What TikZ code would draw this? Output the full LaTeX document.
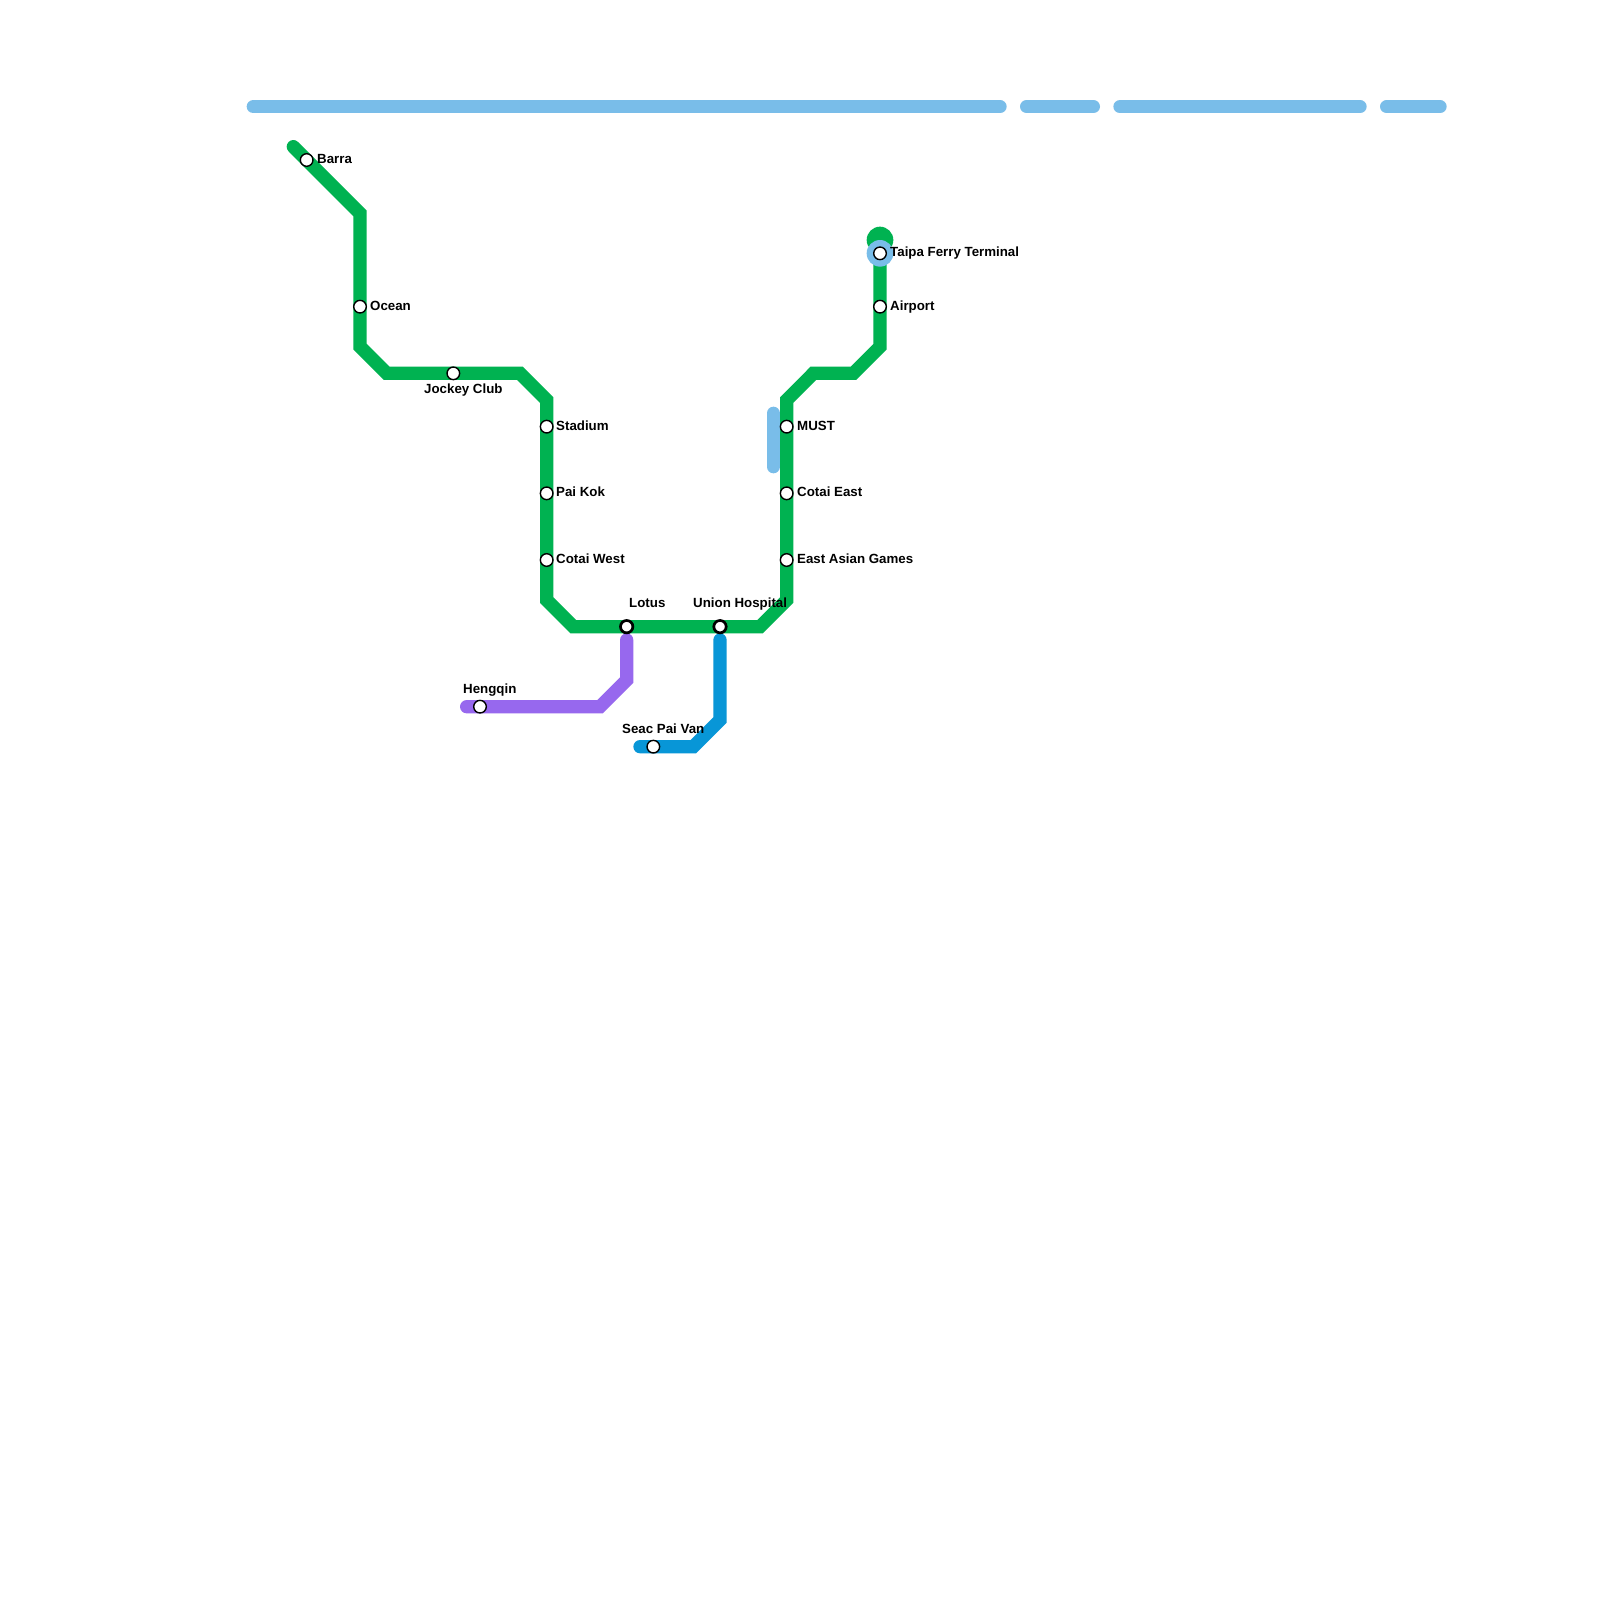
\documentclass[tikz,border=0pt]{standalone}
\usepackage{fontspec}
\setmainfont{Liberation Sans}
\tikzset{
  line/.style={line width=13.33pt,line cap=round,line join=miter},
  water/.style={line,draw=wblue},
  stn/.style={circle,draw=black,fill=white,line width=1.4pt,minimum size=12.6pt,inner sep=0pt},
  xstn/.style={circle,draw=black,fill=white,line width=2.7pt,minimum size=12.4pt,inner sep=0pt},
  lbl/.style={anchor=base west,inner sep=0pt,font=\bfseries\fontsize{13.3}{15}\selectfont,text=black}
}
\definecolor{wblue}{HTML}{79BDE9}
\definecolor{lgreen}{HTML}{00B251}
\definecolor{lpurple}{HTML}{9768EE}
\definecolor{lblue}{HTML}{0896D7}
\begin{document}
\begin{tikzpicture}[x=1pt,y=-1pt]
\useasboundingbox (0,0) rectangle (1600,1600);
\fill[white] (0,0) rectangle (1600,1600);
% water
\coordinate (w1a) at (253.33,106.67); \coordinate (w1b) at (1000,106.67);
\coordinate (w2a) at (1026.67,106.67); \coordinate (w2b) at (1093.33,106.67);
\coordinate (w3a) at (1120,106.67); \coordinate (w3b) at (1360,106.67);
\coordinate (w4a) at (1386.67,106.67); \coordinate (w4b) at (1440,106.67);
\coordinate (w5a) at (773.33,413.33); \coordinate (w5b) at (773.33,466.67);
\draw[water] (w1a) -- (w1b);
\draw[water] (w2a) -- (w2b);
\draw[water] (w3a) -- (w3b);
\draw[water] (w4a) -- (w4b);
\draw[water] (w5a) -- (w5b);
% green line
\coordinate (gs) at (293.33,146.67);
\coordinate (g1) at (360,213.33); \coordinate (g2) at (360,346.67);
\coordinate (g3) at (386.67,373.33); \coordinate (g4) at (520,373.33);
\coordinate (g5) at (546.67,400); \coordinate (g6) at (546.67,600);
\coordinate (g7) at (573.33,626.67); \coordinate (g8) at (760,626.67);
\coordinate (g9) at (786.67,600); \coordinate (g10) at (786.67,400);
\coordinate (g11) at (813.33,373.33); \coordinate (g12) at (853.33,373.33);
\coordinate (g13) at (880,346.67); \coordinate (ge) at (880,240);
\fill[lgreen] (ge) circle (13.33pt);
\draw[line,draw=lgreen] (gs) -- (g1) -- (g2) -- (g3) -- (g4) -- (g5) -- (g6) -- (g7) -- (g8) -- (g9) -- (g10) -- (g11) -- (g12) -- (g13) -- (ge);
% purple line
\coordinate (p1) at (626.67,640); \coordinate (p2) at (626.67,680);
\coordinate (p3) at (600,706.67); \coordinate (p4) at (466.67,706.67);
\draw[line,draw=lpurple] (p1) -- (p2) -- (p3) -- (p4);
% blue line
\coordinate (b1) at (720,640); \coordinate (b2) at (720,720);
\coordinate (b3) at (693.33,746.67); \coordinate (b4) at (640,746.67);
\draw[line,draw=lblue] (b1) -- (b2) -- (b3) -- (b4);
% terminal halo
\fill[wblue] (880,253.33) circle (13.33pt);
% stations
\node[stn] (barra) at (306.67,160) {};
\node[stn] (ocean) at (360,306.67) {};
\node[stn] (jockey) at (453.33,373.33) {};
\node[stn] (stadium) at (546.67,426.67) {};
\node[stn] (paikok) at (546.67,493.33) {};
\node[stn] (cotaiw) at (546.67,560) {};
\node[xstn] (lotus) at (626.67,626.67) {};
\node[xstn] (union) at (720,626.67) {};
\node[stn] (must) at (786.67,426.67) {};
\node[stn] (cotaie) at (786.67,493.33) {};
\node[stn] (eag) at (786.67,560) {};
\node[stn] (airport) at (880,306.67) {};
\node[stn] (taipa) at (880,253.33) {};
\node[stn] (hengqin) at (480,706.67) {};
\node[stn] (seac) at (653.33,746.67) {};
% labels
\node[lbl] (lbarra) at (317,163) {Barra};
\node[lbl] (locean) at (370,310) {Ocean};
\node[lbl] (ljockey) at (424,393) {Jockey Club};
\node[lbl] (lstadium) at (556,430) {Stadium};
\node[lbl] (lpaikok) at (556,496.5) {Pai Kok};
\node[lbl] (lcotaiw) at (556,563) {Cotai West};
\node[lbl] (llotus) at (629,607) {Lotus};
\node[lbl] (lunion) at (693,607) {Union Hospital};
\node[lbl] (lmust) at (797,430) {MUST};
\node[lbl] (lcotaie) at (797,496.5) {Cotai East};
\node[lbl] (leag) at (797,563) {East Asian Games};
\node[lbl] (lairport) at (890,310) {Airport};
\node[lbl] (ltaipa) at (890,256.5) {Taipa Ferry Terminal};
\node[lbl] (lhengqin) at (463,693) {Hengqin};
\node[lbl] (lseac) at (622,733) {Seac Pai Van};
\end{tikzpicture}
\end{document}
